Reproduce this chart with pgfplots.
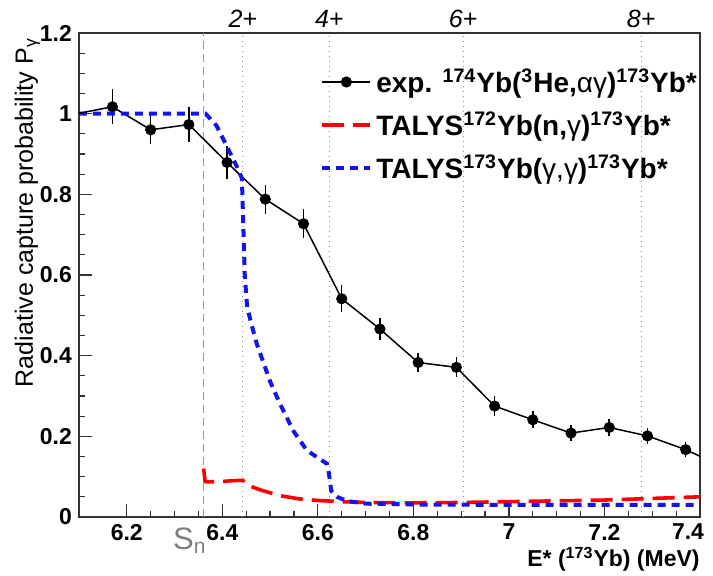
\documentclass[border=0pt]{standalone}
\usepackage{pgfplots}
\pgfplotsset{compat=1.18}
\usepackage{fontspec}
\setmainfont{Liberation Sans}
\definecolor{tred}{RGB}{255,0,0}
\definecolor{tblue}{RGB}{20,20,240}
\begin{document}
\begin{tikzpicture}
\useasboundingbox (-39.5pt,-29.5pt) rectangle (317pt,258.5pt);
\begin{axis}[
  at={(0,0)}, anchor=south west,
  scale only axis, width=310.5pt, height=242pt,
  xmin=6.1, xmax=7.4, ymin=0, ymax=1.2,
  clip=false,
  xtick={6.2,6.4,6.6,6.8,7.0,7.2,7.4},
  xticklabels={6.2,6.4,6.6,6.8,7,7.2,{\makebox[0pt]{\hspace*{-12pt}7.4}}},
  ytick={0,0.2,0.4,0.6,0.8,1.0,1.2},
  yticklabels={0,0.2,0.4,0.6,0.8,1,1.2},
  minor x tick num=3, minor y tick num=3,
  tick align=inside, xtick pos=bottom, ytick pos=left,
  major tick length=6.5pt, minor tick length=3.2pt,
  every tick/.style={black!80, line width=0.6pt},
  axis line style={black!80, line width=0.8pt},
  tick label style={font=\bfseries\fontsize{11.5}{13}\selectfont},
  /pgf/number format/assume math mode=true,
  xlabel={E* (\textsuperscript{173}Yb) (MeV)},
  xlabel style={at={(rel axis cs:1,-0.061)}, anchor=north east, inner sep=0pt, font=\bfseries\fontsize{11.5}{13}\selectfont},
  ylabel={Radiative capture probability P\textsubscript{γ}},
  ylabel style={at={(rel axis cs:-0.062,0.99)}, anchor=south east, inner sep=0pt, font=\fontsize{12.5}{14}\selectfont},
  legend style={at={(rel axis cs:0.385,0.94)}, anchor=north west, draw=none, fill=none,
    font=\bfseries\fontsize{14}{15}\selectfont, row sep=4pt, inner sep=1pt},
  legend cell align=left,
  legend image code/.code={\draw[mark repeat=2,mark phase=2,#1] plot coordinates {(0cm,0cm) (0.42cm,0cm) (0.84cm,0cm)};},
]
% guide lines
\addplot[forget plot, gray!80, line width=0.6pt, dash pattern=on 4pt off 2.5pt] coordinates {(6.360,0) (6.360,1.2)};
\addplot[forget plot, gray!90, line width=0.5pt, dotted] coordinates {(6.443,0) (6.443,1.2)};
\addplot[forget plot, gray!90, line width=0.5pt, dotted] coordinates {(6.624,0) (6.624,1.2)};
\addplot[forget plot, gray!90, line width=0.5pt, dotted] coordinates {(6.904,0) (6.904,1.2)};
\addplot[forget plot, gray!90, line width=0.5pt, dotted] coordinates {(7.277,0) (7.277,1.2)};
% experiment
\addplot[black, line width=0.75pt, mark=*, mark size=2.4pt,
  error bars/.cd, y dir=both, y explicit, error bar style={line width=0.75pt}, error mark=none]
  coordinates {
  (6.17,1.017) +- (0,0.043)
  (6.25,0.960) +- (0,0.036)
  (6.33,0.973) +- (0,0.043)
  (6.41,0.879) +- (0,0.040)
  (6.49,0.788) +- (0,0.036)
  (6.57,0.727) +- (0,0.036)
  (6.65,0.541) +- (0,0.033)
  (6.73,0.466) +- (0,0.027)
  (6.81,0.383) +- (0,0.024)
  (6.89,0.371) +- (0,0.025)
  (6.97,0.275) +- (0,0.024)
  (7.05,0.241) +- (0,0.021)
  (7.13,0.208) +- (0,0.020)
  (7.21,0.222) +- (0,0.021)
  (7.29,0.201) +- (0,0.019)
  (7.37,0.167) +- (0,0.018)
  };
\addlegendentry{exp. \textsuperscript{174}Yb(\textsuperscript{3}He,{\mdseries αγ})\textsuperscript{173}Yb*}
% TALYS n,gamma
\addplot[tred, line width=1.8pt, dash pattern=on 11pt off 4.5pt] coordinates {
  (6.361,0.120) (6.364,0.088) (6.37,0.087) (6.40,0.088) (6.42,0.090) (6.443,0.091)
  (6.45,0.080) (6.48,0.067) (6.52,0.053) (6.56,0.045) (6.60,0.041) (6.65,0.038)
  (6.70,0.036) (6.80,0.035) (6.90,0.036) (7.00,0.038) (7.10,0.040) (7.20,0.042)
  (7.30,0.046) (7.40,0.050)};
\addlegendentry{TALYS\textsuperscript{172}Yb(n,{\mdseries γ})\textsuperscript{173}Yb*}
% TALYS gamma,gamma
\addplot[tblue, line width=2pt, dash pattern=on 4pt off 3pt] coordinates {
  (6.1,1.0) (6.365,1.0) (6.388,0.97) (6.409,0.92) (6.43,0.87) (6.441,0.84)
  (6.447,0.60) (6.452,0.52) (6.465,0.46) (6.472,0.43) (6.50,0.336) (6.521,0.28)
  (6.549,0.213) (6.577,0.165) (6.60,0.147) (6.619,0.132) (6.623,0.11) (6.628,0.065)
  (6.64,0.050) (6.66,0.040) (6.70,0.033) (6.80,0.031) (7.0,0.030) (7.2,0.030) (7.4,0.030)};
\addlegendentry{TALYS\textsuperscript{173}Yb({\mdseries γ,γ})\textsuperscript{173}Yb*}
% line continuation to the frame
\addplot[forget plot, black, line width=0.75pt] coordinates {(6.1,1.001) (6.17,1.017)};
\addplot[forget plot, black, line width=0.75pt] coordinates {(7.37,0.167) (7.4,0.1505)};
% labels
\node[anchor=base, font=\itshape\fontsize{12.5}{14}\selectfont] at (axis cs:6.443,1.213) {2+};
\node[anchor=base, font=\itshape\fontsize{12.5}{14}\selectfont] at (axis cs:6.624,1.213) {4+};
\node[anchor=base, font=\itshape\fontsize{12.5}{14}\selectfont] at (axis cs:6.904,1.213) {6+};
\node[anchor=base, font=\itshape\fontsize{12.5}{14}\selectfont] at (axis cs:7.277,1.213) {8+};
\node[anchor=north, text=gray, inner sep=0pt] at (axis cs:6.332,-0.026) {\fontsize{15.5}{16}\selectfont S\textsubscript{\fontsize{10.5}{11}\selectfont n}};
\end{axis}
\end{tikzpicture}
\end{document}
